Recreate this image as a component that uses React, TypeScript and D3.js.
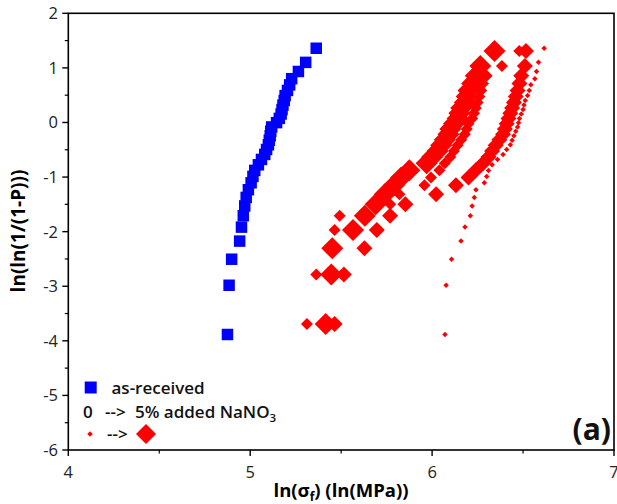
import React from "react";
import * as d3 from "d3";

// ---- data ----
// y positions for n = 34 specimens
const yN34 = [-3.884, -2.982, -2.505, -2.173, -1.917, -1.708, -1.529, -1.373, -1.232, -1.105, -0.988, -0.878, -0.775, -0.677, -0.585, -0.495, -0.409, -0.325, -0.243, -0.161, -0.082, -0.003, 0.075, 0.155, 0.236, 0.318, 0.404, 0.492, 0.587, 0.689, 0.802, 0.934, 1.101, 1.36];
// y positions for n = 28 specimens
const yN28 = [-3.69, -2.785, -2.304, -1.969, -1.71, -1.496, -1.313, -1.151, -1.006, -0.873, -0.749, -0.633, -0.523, -0.418, -0.316, -0.217, -0.12, -0.024, 0.072, 0.168, 0.266, 0.368, 0.474, 0.587, 0.712, 0.856, 1.035, 1.309];

const asReceivedX = [4.875, 4.884, 4.898, 4.942, 4.952, 4.962, 4.97, 4.978, 4.99, 5.005, 5.015, 5.025, 5.045, 5.062, 5.08, 5.09, 5.1, 5.105, 5.11, 5.113, 5.118, 5.145, 5.16, 5.17, 5.175, 5.18, 5.187, 5.192, 5.205, 5.217, 5.228, 5.265, 5.305, 5.363];

const red0X = [6.071, 6.077, 6.107, 6.159, 6.181, 6.21, 6.22, 6.232, 6.241, 6.287, 6.3, 6.31, 6.33, 6.36, 6.39, 6.41, 6.43, 6.44, 6.45, 6.46, 6.47, 6.475, 6.48, 6.49, 6.5, 6.505, 6.512, 6.525, 6.534, 6.543, 6.565, 6.574, 6.585, 6.616];
const red1X = [5.312, 5.363, 5.44, 5.464, 5.492, 5.77, 5.82, 5.958, 5.994, 6.04, 6.07, 6.1, 6.12, 6.14, 6.16, 6.18, 6.19, 6.2, 6.22, 6.23, 6.24, 6.25, 6.26, 6.27, 6.28, 6.3, 6.384, 6.479];
const red2X = [5.464, 5.515, 5.628, 5.696, 5.769, 5.853, 6.022, 6.131, 6.2, 6.24, 6.28, 6.31, 6.33, 6.35, 6.37, 6.39, 6.4, 6.41, 6.42, 6.43, 6.44, 6.45, 6.46, 6.47, 6.48, 6.49, 6.51, 6.516];
const red3X = [5.415, 5.446, 5.451, 5.565, 5.63, 5.69, 5.74, 5.79, 5.83, 5.875, 5.97, 6.0, 6.03, 6.05, 6.07, 6.09, 6.1, 6.12, 6.14, 6.15, 6.16, 6.18, 6.19, 6.2, 6.22, 6.24, 6.265, 6.343];

const xTicks = [4, 5, 6, 7];
const yTicks = [-6, -5, -4, -3, -2, -1, 0, 1, 2];

const W = 617;
const H = 504;
const M = { left: 68.3, right: 614, top: 13.3, bottom: 450 };
const FONT = "'Open Sans', 'DejaVu Sans', sans-serif";

export default function App() {
  const x = d3.scaleLinear().domain([4, 7]).range([M.left, M.right]);
  const y = d3.scaleLinear().domain([-6, 2]).range([M.bottom, M.top]);

  const diamond = (d: number) => d3.symbol(d3.symbolSquare, (d * d) / 2)() as string;
  const square = (s: number) => d3.symbol(d3.symbolSquare, s * s)() as string;

  const redSeries = [
    { xs: red0X, ys: yN34, size: 5.5 },
    { xs: red1X, ys: yN28, size: 12 },
    { xs: red2X, ys: yN28, size: 16 },
    { xs: red3X, ys: yN28, size: 22 },
  ];

  const xMinor = d3.range(4.5, 7, 1);
  const yMinor = d3.range(-5.5, 2, 1);

  return (
    <svg width={W} height={H} style={{ position: "absolute", left: 0, top: 0, background: "#fff" }}>
      <rect x={0} y={0} width={W} height={H} fill="#fff" />
      {/* red series */}
      {redSeries.map((s, si) => (
        <g key={si}>
          {s.xs.map((v, i) => (
            <path
              key={i}
              d={diamond(s.size)}
              transform={`translate(${x(v)},${y(s.ys[i])}) rotate(45)`}
              fill="#ff0000"
            />
          ))}
        </g>
      ))}
      {/* blue series */}
      <g>
        {asReceivedX.map((v, i) => (
          <path key={i} d={square(11.5)} transform={`translate(${x(v)},${y(yN34[i])})`} fill="#0000ff" />
        ))}
      </g>

      {/* frame */}
      <rect x={M.left} y={M.top} width={M.right - M.left} height={M.bottom - M.top} fill="none" stroke="#000" strokeWidth={1.6} />

      {/* x ticks */}
      {xTicks.map((t) => (
        <g key={t}>
          <line x1={x(t)} x2={x(t)} y1={M.bottom} y2={M.bottom + 6} stroke="#000" strokeWidth={1.4} />
          <text x={x(t)} y={478} textAnchor="middle" fontFamily={FONT} fontSize={16.5} fill="#222">
            {t}
          </text>
        </g>
      ))}
      {xMinor.map((t) => (
        <line key={t} x1={x(t)} x2={x(t)} y1={M.bottom} y2={M.bottom + 3.5} stroke="#000" strokeWidth={1.2} />
      ))}
      {/* y ticks */}
      {yTicks.map((t) => (
        <g key={t}>
          <line x1={M.left - 6} x2={M.left} y1={y(t)} y2={y(t)} stroke="#000" strokeWidth={1.4} />
          <text x={58} y={y(t) + 6} textAnchor="end" fontFamily={FONT} fontSize={16.5} fill="#222">
            {t}
          </text>
        </g>
      ))}
      {yMinor.map((t) => (
        <line key={t} x1={M.left - 3.5} x2={M.left} y1={y(t)} y2={y(t)} stroke="#000" strokeWidth={1.2} />
      ))}

      {/* axis titles */}
      <text x={341} y={497} textAnchor="middle" fontFamily={FONT} fontSize={18.5} fontWeight="bold" fill="#000">
        ln(σ<tspan fontSize={12} dy={4}>f</tspan>
        <tspan dy={-4}>) (ln(MPa))</tspan>
      </text>
      <text
        transform={`translate(25,231) rotate(-90)`}
        textAnchor="middle"
        fontFamily={FONT}
        fontSize={19}
        fontWeight="bold"
        fill="#000"
      >
        ln(ln(1/(1-P)))
      </text>

      {/* legend */}
      <path d={square(12)} transform="translate(90.7,387.5)" fill="#0000ff" />
      <text x={111.5} y={393.5} fontFamily={FONT} fontSize={17} fontWeight={600} fill="#111">
        as-received
      </text>
      <text x={83} y={417.5} fontFamily={FONT} fontSize={17} fontWeight={600} fill="#111">
        0
      </text>
      <text x={105} y={417.5} fontFamily={FONT} fontSize={17} fontWeight={600} fill="#111">
        --&gt;
      </text>
      <text x={135} y={417.5} fontFamily={FONT} fontSize={17} fontWeight={600} fill="#111">
        5% added NaNO<tspan fontSize={11.5} dy={4}>3</tspan>
      </text>
      <path d={diamond(5.5)} transform="translate(90,434) rotate(45)" fill="#ff0000" />
      <text x={107} y={440} fontFamily={FONT} fontSize={17} fontWeight={600} fill="#111">
        --&gt;
      </text>
      <path d={diamond(20)} transform="translate(146,434) rotate(45)" fill="#ff0000" />

      <text x={611} y={440} textAnchor="end" fontFamily={FONT} fontSize={30} fontWeight="bold" fill="#111">
        (a)
      </text>
    </svg>
  );
}
